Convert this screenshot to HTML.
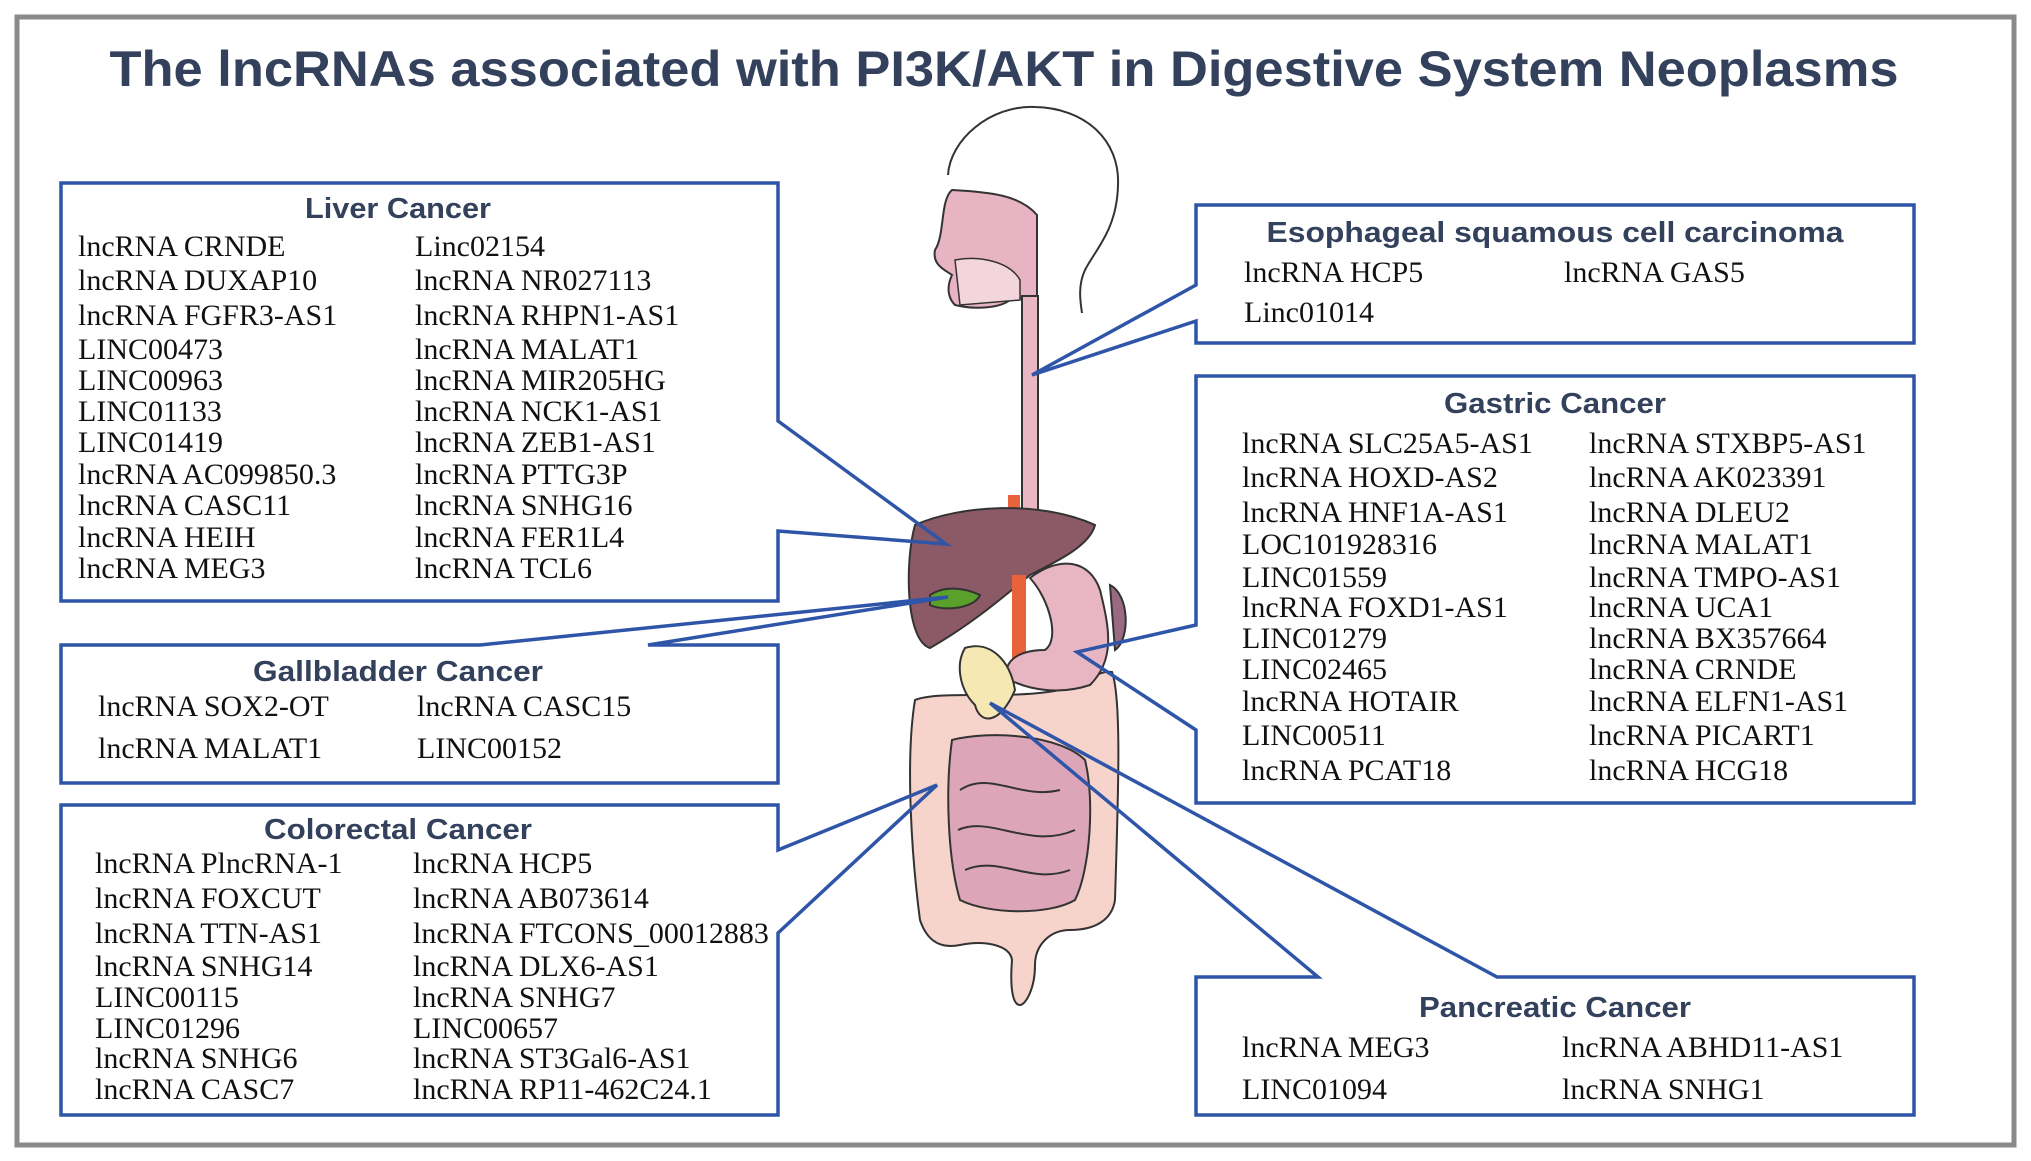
<!DOCTYPE html>
<html><head><meta charset="utf-8"><style>
html,body{margin:0;padding:0;background:#fff}
svg{display:block}
.t{font-family:"Liberation Sans",sans-serif;font-weight:bold;fill:#33415c}
.i{font-family:"Liberation Serif",serif;font-size:30px;fill:#111}
</style></head><body>
<svg width="2031" height="1161" viewBox="0 0 2031 1161" xmlns="http://www.w3.org/2000/svg">
<rect x="17" y="17" width="1997" height="1128" fill="#fff" stroke="#8a8a8a" stroke-width="5"/>
<text class="t" x="1004" y="86" font-size="50" text-anchor="middle" textLength="1789" lengthAdjust="spacingAndGlyphs">The lncRNAs associated with PI3K/AKT in Digestive System Neoplasms</text>

<!-- anatomy -->
<g stroke="#333" stroke-width="2">
<path d="M948 175 C950 140 990 105 1035 107 C1085 108 1120 140 1118 185 C1117 230 1095 250 1085 270 C1078 285 1080 300 1082 313" fill="none"/>
<path d="M952 190 C940 200 945 235 935 250 C932 265 945 270 952 275 C945 290 950 300 955 305 C975 310 1000 308 1010 300 L1022 298 L1037 298 L1037 215 C1020 195 990 192 952 190Z" fill="#e8b3c2"/>
<path d="M955 260 C980 255 1010 262 1020 280 L1020 300 L960 305 Z" fill="#f3d6dc" stroke-width="1.5"/>
<rect x="1022" y="296" width="16" height="225" fill="#e9b7c4"/>
<rect x="1008" y="495" width="12" height="30" fill="#e8623a" stroke="none"/>
<!-- colon -->
<path d="M915 700 C940 690 1010 700 1060 690 C1090 680 1100 670 1112 672 C1122 700 1118 800 1115 900 C1112 920 1095 930 1070 930 C1050 930 1035 945 1035 965 C1035 990 1025 1005 1020 1005 C1012 1005 1010 985 1012 960 C1010 945 985 940 960 945 C935 950 925 935 920 920 C912 860 905 760 915 700Z" fill="#f6d3cb"/>
<path d="M952 740 C990 730 1060 735 1085 760 C1095 800 1090 870 1075 900 C1050 915 990 915 960 900 C948 860 945 790 952 740Z" fill="#dca6b8"/>
<path d="M960 790 C990 770 1020 800 1060 790 M958 830 C990 815 1030 850 1075 830 M965 870 C1000 855 1030 885 1070 870" fill="none" stroke-width="2"/>
<!-- liver -->
<path d="M915 525 C960 505 1040 500 1095 525 C1090 545 1060 560 1030 575 C1000 600 970 625 930 648 C905 640 905 560 915 525Z" fill="#8b5a66"/>
<rect x="1012" y="575" width="14" height="90" fill="#e8623a" stroke="none"/>
<path d="M1030 578 C1060 555 1090 560 1100 590 C1110 630 1115 660 1090 685 C1060 695 1030 690 1010 680 C1000 665 1015 650 1045 650 C1060 640 1050 600 1030 578Z" fill="#e8b6c3"/>
<path d="M1110 585 C1130 595 1130 640 1115 650 Z" fill="#9a6a82"/>
<path d="M930 595 C945 585 965 588 980 595 C975 608 945 612 930 605Z" fill="#5aa02a"/>
<path d="M965 648 C990 640 1010 660 1015 690 C1000 725 980 725 975 705 C960 690 955 665 965 648Z" fill="#f5e8b2"/>
</g>

<!-- boxes -->
<g fill="none" stroke="#2e55a8" stroke-width="3.5" stroke-linejoin="miter">
<path d="M778 421 L946 544 L778 531 L778 601 L61 601 L61 183 L778 183 Z"/>
<path d="M648 645 L948 597 L480 645 L61 645 L61 783 L778 783 L778 645 Z"/>
<path d="M778 850 L937 785 L778 933 L778 1115 L61 1115 L61 805 L778 805 Z"/>
<path d="M1196 285 L1032 375 L1196 321 L1196 343 L1914 343 L1914 205 L1196 205 Z"/>
<path d="M1196 625 L1077 652 L1196 730 L1196 803 L1914 803 L1914 376 L1196 376 Z"/>
<path d="M1497 977 L990 703 L1318 977 L1196 977 L1196 1115 L1914 1115 L1914 977 Z"/>
</g>

<text class="t" x="398" y="218" font-size="29" text-anchor="middle" textLength="186" lengthAdjust="spacingAndGlyphs">Liver Cancer</text>
<g class="i">
<text x="78" y="256">lncRNA CRNDE</text><text x="415" y="256">Linc02154</text>
<text x="78" y="290">lncRNA DUXAP10</text><text x="415" y="290">lncRNA NR027113</text>
<text x="78" y="325">lncRNA FGFR3-AS1</text><text x="415" y="325">lncRNA RHPN1-AS1</text>
<text x="78" y="359">LINC00473</text><text x="415" y="359">lncRNA MALAT1</text>
<text x="78" y="390">LINC00963</text><text x="415" y="390">lncRNA MIR205HG</text>
<text x="78" y="421">LINC01133</text><text x="415" y="421">lncRNA NCK1-AS1</text>
<text x="78" y="452">LINC01419</text><text x="415" y="452">lncRNA ZEB1-AS1</text>
<text x="78" y="484">lncRNA AC099850.3</text><text x="415" y="484">lncRNA PTTG3P</text>
<text x="78" y="515">lncRNA CASC11</text><text x="415" y="515">lncRNA SNHG16</text>
<text x="78" y="547">lncRNA HEIH</text><text x="415" y="547">lncRNA FER1L4</text>
<text x="78" y="578">lncRNA MEG3</text><text x="415" y="578">lncRNA TCL6</text>
</g>

<text class="t" x="398" y="681" font-size="29" text-anchor="middle" textLength="290" lengthAdjust="spacingAndGlyphs">Gallbladder Cancer</text>
<g class="i">
<text x="98" y="716">lncRNA SOX2-OT</text><text x="417" y="716">lncRNA CASC15</text>
<text x="98" y="758">lncRNA MALAT1</text><text x="417" y="758">LINC00152</text>
</g>

<text class="t" x="398" y="839" font-size="29" text-anchor="middle" textLength="268" lengthAdjust="spacingAndGlyphs">Colorectal Cancer</text>
<g class="i">
<text x="95" y="873">lncRNA PlncRNA-1</text><text x="413" y="873">lncRNA HCP5</text>
<text x="95" y="908">lncRNA FOXCUT</text><text x="413" y="908">lncRNA AB073614</text>
<text x="95" y="943">lncRNA TTN-AS1</text><text x="413" y="943">lncRNA FTCONS_00012883</text>
<text x="95" y="976">lncRNA SNHG14</text><text x="413" y="976">lncRNA DLX6-AS1</text>
<text x="95" y="1007">LINC00115</text><text x="413" y="1007">lncRNA SNHG7</text>
<text x="95" y="1038">LINC01296</text><text x="413" y="1038">LINC00657</text>
<text x="95" y="1068">lncRNA SNHG6</text><text x="413" y="1068">lncRNA ST3Gal6-AS1</text>
<text x="95" y="1099">lncRNA CASC7</text><text x="413" y="1099">lncRNA RP11-462C24.1</text>
</g>

<text class="t" x="1555" y="242" font-size="29" text-anchor="middle" textLength="577" lengthAdjust="spacingAndGlyphs">Esophageal squamous cell carcinoma</text>
<g class="i">
<text x="1244" y="282">lncRNA HCP5</text><text x="1564" y="282">lncRNA GAS5</text>
<text x="1244" y="322">Linc01014</text>
</g>

<text class="t" x="1555" y="413" font-size="29" text-anchor="middle" textLength="222" lengthAdjust="spacingAndGlyphs">Gastric Cancer</text>
<g class="i">
<text x="1242" y="453">lncRNA SLC25A5-AS1</text><text x="1589" y="453">lncRNA STXBP5-AS1</text>
<text x="1242" y="487">lncRNA HOXD-AS2</text><text x="1589" y="487">lncRNA AK023391</text>
<text x="1242" y="522">lncRNA HNF1A-AS1</text><text x="1589" y="522">lncRNA DLEU2</text>
<text x="1242" y="554">LOC101928316</text><text x="1589" y="554">lncRNA MALAT1</text>
<text x="1242" y="587">LINC01559</text><text x="1589" y="587">lncRNA TMPO-AS1</text>
<text x="1242" y="617">lncRNA FOXD1-AS1</text><text x="1589" y="617">lncRNA UCA1</text>
<text x="1242" y="648">LINC01279</text><text x="1589" y="648">lncRNA BX357664</text>
<text x="1242" y="679">LINC02465</text><text x="1589" y="679">lncRNA CRNDE</text>
<text x="1242" y="711">lncRNA HOTAIR</text><text x="1589" y="711">lncRNA ELFN1-AS1</text>
<text x="1242" y="745">LINC00511</text><text x="1589" y="745">lncRNA PICART1</text>
<text x="1242" y="780">lncRNA PCAT18</text><text x="1589" y="780">lncRNA HCG18</text>
</g>

<text class="t" x="1555" y="1017" font-size="29" text-anchor="middle" textLength="272" lengthAdjust="spacingAndGlyphs">Pancreatic Cancer</text>
<g class="i">
<text x="1242" y="1057">lncRNA MEG3</text><text x="1562" y="1057">lncRNA ABHD11-AS1</text>
<text x="1242" y="1099">LINC01094</text><text x="1562" y="1099">lncRNA SNHG1</text>
</g>
</svg>
</body></html>
